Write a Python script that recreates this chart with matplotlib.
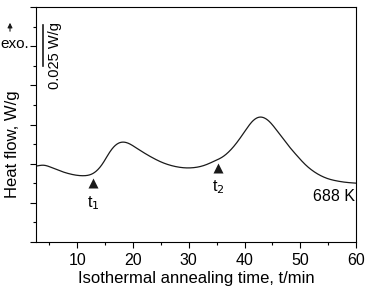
import numpy as np
import matplotlib
matplotlib.use("Agg")
import matplotlib.pyplot as plt
from matplotlib.ticker import MultipleLocator, NullFormatter

plt.rcParams["font.family"] = ["Liberation Sans", "DejaVu Sans"]

# isothermal DSC trace (arbitrary vertical units)
time_min = [2.6, 3.8, 5.6, 7.0, 8.6, 10.0, 11.0, 12.0, 12.8, 13.7, 14.6, 15.8, 17.0,
            18.3, 19.4, 20.6, 23.0, 25.4, 27.8, 29.6, 32.7, 34.5, 36.3, 38.1, 39.9,
            41.4, 42.6, 44.1, 45.9, 47.7, 49.5, 51.0, 52.5, 54.3, 57.3, 60.0]
heat_flow = [1.93, 1.97, 1.89, 1.81, 1.74, 1.70, 1.69, 1.70, 1.74, 1.84, 2.00, 2.30, 2.50,
             2.56, 2.51, 2.40, 2.19, 2.02, 1.92, 1.89, 1.95, 2.06, 2.19, 2.44, 2.79,
             3.09, 3.20, 3.13, 2.83, 2.49, 2.19, 1.96, 1.79, 1.65, 1.54, 1.50]

# onset markers
mark_t = [12.9, 35.3]
mark_y = [1.51, 1.90]
mark_lbl = ["t$_1$", "t$_2$"]


# cubic hermite through the read points, then a light smoothing
def hermite(x, y, xs):
    x = np.asarray(x)
    y = np.asarray(y)
    m = np.gradient(y, x)
    idx = np.clip(np.searchsorted(x, xs) - 1, 0, len(x) - 2)
    h = x[idx + 1] - x[idx]
    t = (xs - x[idx]) / h
    h00 = 2*t**3 - 3*t**2 + 1
    h10 = t**3 - 2*t**2 + t
    h01 = -2*t**3 + 3*t**2
    h11 = t**3 - t**2
    return h00*y[idx] + h10*h*m[idx] + h01*y[idx+1] + h11*h*m[idx+1]


xs = np.linspace(time_min[0], time_min[-1], 1200)
ys = hermite(time_min, heat_flow, xs)
dx = xs[1] - xs[0]
k = np.arange(-60, 61) * dx
w = np.exp(-0.5 * (k / 0.5) ** 2)
w /= w.sum()
ys = np.convolve(np.pad(ys, 60, mode="edge"), w, mode="valid")

fig = plt.figure(figsize=(3.66, 2.94), dpi=100)
ax = fig.add_axes([36/366, 52/294, 320/366, 235/294])

ax.plot(xs, ys, color="#1a1a1a", lw=0.9)
ax.plot(mark_t, mark_y, "^", color="#1a1a1a", ms=6.5, mec="none")
ax.text(mark_t[0], mark_y[0] - 0.28, mark_lbl[0], ha="center", va="top", fontsize=11.5)
ax.text(mark_t[1], mark_y[1] - 0.28, mark_lbl[1], ha="center", va="top", fontsize=11.5)
ax.text(59.8, 1.17, "688 K", ha="right", va="center", fontsize=11.5)

ax.set_xlim(2.6, 60)
ax.set_ylim(0, 6)
ax.xaxis.set_major_locator(MultipleLocator(10))
ax.xaxis.set_minor_locator(MultipleLocator(5))
ax.yaxis.set_major_locator(MultipleLocator(1))
ax.yaxis.set_minor_locator(MultipleLocator(0.5))
ax.yaxis.set_major_formatter(NullFormatter())
ax.tick_params(which="major", direction="out", length=4.5, width=0.8, labelsize=11.5)
ax.tick_params(which="minor", direction="out", length=2.5, width=0.8)
for s in ax.spines.values():
    s.set_linewidth(0.8)

# scale bar
ax.plot([3.8, 3.8], [4.49, 5.54], color="#1a1a1a", lw=1.2, clip_on=False)
ax.text(6.0, 4.77, "0.025 W/g", rotation=90, ha="center", va="center", fontsize=10.5)

# exo arrow
fig.add_artist(matplotlib.patches.FancyArrowPatch(
    (10/366, 1 - 34/294), (10/366, 1 - 20/294), transform=fig.transFigure,
    arrowstyle="-|>", mutation_scale=7, color="#1a1a1a", lw=0.8))
fig.text(0.5/366, 1 - 44/294, "exo.", ha="left", va="center", fontsize=11)

ax.set_xlabel("Isothermal annealing time, t/min", fontsize=12, labelpad=2)
fig.text(13/366, 1 - 144/294, "Heat flow, W/g", rotation=90, ha="center", va="center", fontsize=12)

fig.savefig("out.png", dpi=100)
